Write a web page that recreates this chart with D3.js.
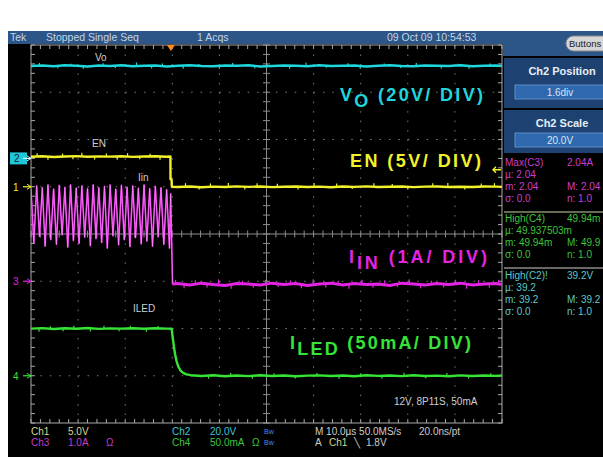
<!DOCTYPE html>
<html>
<head>
<meta charset="utf-8">
<script src="https://cdn.jsdelivr.net/npm/d3@7"></script>
<style>
  html, body { margin: 0; padding: 0; background: #fff; }
  svg { display: block; }
  text { font-family: "Liberation Sans", Arial, sans-serif; }
</style>
</head>
<body>
<svg id="scope" width="603" height="457"></svg>
<script>
// ---- acquisition: 10 horizontal divisions of 10 µs, trigger near 3 div ----
const timeDomain = [-29.7, 70.3];       // µs across the screen
const divDomain = [-4, 4];              // vertical divisions

// channel settings: volts (or amps / mA) per division and position in divisions
const chNames = ["EN", "Vo", "Iin", "ILED"];
const chScale = [5, 20, 1, 50];
const chPos = [1.0, 1.6, -1.0, -3.0];
const chColor = ["#f2f22a", "#1fd6dc", "#e324e3", "#36e336"];

// Ch2 output voltage Vo (V)
const voT = [-29.7,-27.3,-24.9,-22.5,-20.1,-17.7,-15.3,-12.9,-10.5,-8.1,-5.7,-3.3,-0.9,1.5,4,6.5,9,11.5,14,16.5,19,21.5,24,26.5,29,31.5,34,36.5,39,41.5,44,46.5,49,51.5,54,56.5,59,61.5,64,66.5,69,70.3];
const voV = [39.1,39.3,39.0,39.4,39.2,38.9,39.3,39.1,39.4,39.0,39.2,39.3,38.9,39.2,39.4,39.1,39.0,39.3,39.2,39.4,38.9,39.1,39.3,39.2,39.0,39.4,39.1,39.2,39.3,38.9,39.2,39.4,39.1,39.0,39.3,39.2,39.1,39.4,39.0,39.2,39.3,39.1];
const voSpikeT = [-27.9,-24.0,-21.2,-18.6,-14.4,-11.8,-7.3,-4.1,-1.8,2.6,5.9,10.3,13.1,17.8,20.4,25.2,28.7,33.0,37.6,40.2,45.3,48.8,52.1,57.4,60.9,63.3,67.8];
const voSpikeV = [40.4,38.2,40.1,37.9,40.3,38.3,40.6,38.1,40.2,38.0,40.0,37.9,40.4,38.2,40.1,38.0,40.5,38.4,40.3,37.9,40.2,38.3,40.4,38.1,40.1,38.0,40.2];

// Ch1 enable EN (V)
const enT = [-29.7,-27.3,-24.9,-22.5,-20.1,-17.7,-15.3,-12.9,-10.5,-8.1,-5.7,-3.3,-0.9,-0.1,-0.08,0.15,0.2,1.5,4,6.5,9,11.5,14,16.5,19,21.5,24,26.5,29,31.5,34,36.5,39,41.5,44,46.5,49,51.5,54,56.5,59,61.5,64,66.5,69,70.3];
const enV = [3.18,3.22,3.15,3.20,3.24,3.17,3.21,3.19,3.23,3.16,3.20,3.22,3.18,3.20,0.80,0.75,0.0,-0.02,0.03,-0.05,0.01,-0.03,0.04,-0.01,0.02,-0.04,0.0,0.03,-0.02,0.01,-0.05,0.02,-0.01,0.04,-0.03,0.0,0.02,-0.04,0.01,0.03,-0.02,0.0,-0.03,0.02,0.01,-0.01];
const enSpikeT = [-28.4,-26.1,-23.0,-20.8,-18.9,-16.2,-13.7,-11.4,-9.2,-6.6,-4.4,-2.3,3.1,6.0,8.4,12.2,15.7,18.3,22.6,27.0,30.4,35.2,38.5,43.1,47.0,50.3,55.6,58.8,62.4,65.9,68.7];
const enSpikeV = [3.55,2.85,3.50,2.90,3.60,2.88,3.52,2.85,3.55,2.90,3.50,2.86,0.38,-0.30,0.35,0.40,-0.28,0.36,0.32,-0.30,0.40,0.34,-0.25,0.38,0.30,-0.30,0.36,0.40,-0.28,0.34,0.38];

// Ch3 input current Iin (A): switching ripple, then off
const iinT = [-29.7,-29.1,-28.5,-27.9,-27.3,-26.7,-26.1,-25.5,-24.9,-24.3,-23.7,-23.1,-22.5,-21.9,-21.3,-20.7,-20.1,-19.5,-18.9,-18.3,-17.7,-17.1,-16.5,-15.9,-15.3,-14.7,-14.1,-13.5,-12.9,-12.3,-11.7,-11.1,-10.5,-9.9,-9.3,-8.7,-8.1,-7.5,-6.9,-6.3,-5.7,-5.1,-4.5,-3.9,-3.3,-2.7,-2.1,-1.5,-0.9,-0.3,-0.05,0.35,1.5,4,6.5,9,11.5,14,16.5,19,21.5,24,26.5,29,31.5,34,36.5,39,41.5,44,46.5,49,51.5,54,56.5,59,61.5,64,66.5,69,70.3];
const iinV = [1.96,0.80,2.02,0.95,1.98,0.74,2.04,0.88,1.95,0.78,2.03,0.98,1.99,0.72,2.04,0.86,1.97,0.80,2.02,0.93,1.96,0.75,2.04,0.90,1.98,0.82,2.01,0.70,2.04,0.96,1.95,0.77,2.03,0.88,1.99,0.73,2.02,0.92,1.97,0.79,2.04,0.85,1.96,0.74,2.01,0.94,1.98,0.78,1.94,0.70,1.85,-0.06,-0.05,-0.08,-0.04,-0.07,-0.09,-0.05,-0.06,-0.08,-0.04,-0.07,-0.05,-0.09,-0.06,-0.04,-0.08,-0.05,-0.07,-0.06,-0.09,-0.04,-0.06,-0.08,-0.05,-0.07,-0.04,-0.08,-0.06,-0.05,-0.07];
const iinSpikeT = [1.0,2.8,5.2,7.7,10.1,12.8,15.2,17.5,20.1,22.8,25.4,27.7,30.2,32.9,35.5,37.8,40.6,42.9,45.4,48.1,50.6,53.0,55.3,57.9,60.4,62.8,65.3,67.6,69.6];
const iinSpikeV = [0.03,-0.15,0.02,-0.13,0.04,-0.16,0.01,-0.14,0.03,-0.12,0.02,-0.15,0.04,-0.13,0.01,-0.16,0.03,-0.14,0.02,-0.12,0.04,-0.15,0.01,-0.13,0.03,-0.16,0.02,-0.14,0.03];

// Ch4 LED current ILED (mA)
const iledT = [-29.7,-27.3,-24.9,-22.5,-20.1,-17.7,-15.3,-12.9,-10.5,-8.1,-5.7,-3.3,-0.9,0.15,0.4,0.65,0.9,1.2,1.6,2.0,2.6,3.3,4.2,6.5,9,11.5,14,16.5,19,21.5,24,26.5,29,31.5,34,36.5,39,41.5,44,46.5,49,51.5,54,56.5,59,61.5,64,66.5,69,70.3];
const iledV = [49.9,50.4,49.5,50.2,49.8,50.5,49.6,50.1,49.9,50.3,49.7,50.2,49.9,49.8,40,30.5,22.5,15.5,9.5,5.8,3.0,1.4,0.6,-0.3,0.5,-0.6,0.2,-0.4,0.6,-0.2,0.3,-0.5,0.1,0.4,-0.3,0.2,-0.6,0.5,-0.1,0.3,-0.4,0.6,-0.2,0.1,-0.5,0.4,-0.3,0.2,-0.1,0.3];
const iledSpikeT = [-28.0,-25.6,-22.9,-20.6,-17.1,-14.2,-11.0,-8.6,-5.2,-2.7,8.0,12.7,17.3,21.9,26.4,31.0,35.7,40.3,44.8,49.5,54.1,58.6,63.2,67.9];
const iledSpikeV = [46.5,52.5,47.0,53.0,46.8,52.8,47.2,53.0,46.5,52.6,-3.0,2.8,-3.2,2.6,-2.8,3.0,-3.1,2.7,-2.9,3.1,-2.7,2.9,-3.0,2.6];

// screen texts
const headerTexts = ["Tek", "Stopped  Single Seq", "1 Acqs", "09 Oct 09 10:54:53"];
const measC3 = ["Max(C3)", "2.04A", "\u00b5: 2.04", "m: 2.04", "M: 2.04", "\u03c3: 0.0", "n: 1.0"];
const measC4 = ["High(C4)", "49.94m", "\u00b5: 49.937503m", "m: 49.94m", "M: 49.9", "\u03c3: 0.0", "n: 1.0"];
const measC2 = ["High(C2)!", "39.2V", "\u00b5: 39.2", "m: 39.2", "M: 39.2", "\u03c3: 0.0", "n: 1.0"];

// ---- drawing ----
const svg = d3.select("#scope");
const X0 = 31, X1 = 502, Y0 = 45, Y1 = 423;
const gx = d3.scaleLinear().domain([0, 10]).range([X0, X1]);
const gy = d3.scaleLinear().domain(divDomain).range([Y1, Y0]);
const x = d3.scaleLinear().domain(timeDomain).range([X0, X1]);
const yCh = (ch, v) => gy(v / chScale[ch] + chPos[ch]);

svg.append("rect").attr("width", 603).attr("height", 457).attr("fill", "#fff");
svg.append("rect").attr("x", 8).attr("y", 31).attr("width", 595).attr("height", 426).attr("fill", "#000");

// header bar
svg.append("rect").attr("x", 8).attr("y", 31).attr("width", 595).attr("height", 13).attr("fill", "#2b5687");
svg.append("rect").attr("x", X1 + 1).attr("y", 44).attr("width", 100).attr("height", 12).attr("fill", "#2b5687");
const hdr = svg.append("g").attr("font-size", 10.5).attr("fill", "#c4d4e6");
[[10, headerTexts[0]], [46, headerTexts[1]], [197, headerTexts[2]], [387, headerTexts[3]]]
  .forEach(([px, s]) => hdr.append("text").attr("x", px).attr("y", 41).text(s));
// Buttons pill
svg.append("rect").attr("x", 566).attr("y", 36).attr("width", 44).attr("height", 15).attr("rx", 7.5)
  .attr("fill", "#d6d6d6").attr("stroke", "#888");
svg.append("text").attr("x", 569).attr("y", 47).attr("font-size", 9.5).attr("fill", "#222").text("Buttons");

// right menu panels
function panel(y, h, title, value, boxY) {
  svg.append("rect").attr("x", X1 + 2).attr("y", y).attr("width", 100).attr("height", h).attr("fill", "#1d4271");
  svg.append("text").attr("x", 562).attr("y", y + 17).attr("text-anchor", "middle")
    .attr("font-size", 11).attr("font-weight", "bold").attr("fill", "#e6eef6").text(title);
  svg.append("rect").attr("x", 515).attr("y", boxY).attr("width", 90).attr("height", 14)
    .attr("fill", "#2f68ae").attr("stroke", "#5d8cc8");
  svg.append("text").attr("x", 560).attr("y", boxY + 11).attr("text-anchor", "middle")
    .attr("font-size", 10).attr("fill", "#d8e6f4").text(value);
}
panel(58, 50, "Ch2 Position", "1.6div", 85);
panel(110, 43, "Ch2 Scale", "20.0V", 133);

// measurement readouts
function meas(rows, y, color) {
  const g = svg.append("g").attr("font-size", 10).attr("fill", color);
  g.append("text").attr("x", 505).attr("y", y).text(rows[0]);
  g.append("text").attr("x", 567).attr("y", y).text(rows[1]);
  g.append("text").attr("x", 505).attr("y", y + 12).text(rows[2]);
  g.append("text").attr("x", 505).attr("y", y + 24).text(rows[3]);
  g.append("text").attr("x", 567).attr("y", y + 24).text(rows[4]);
  g.append("text").attr("x", 505).attr("y", y + 36).text(rows[5]);
  g.append("text").attr("x", 567).attr("y", y + 36).text(rows[6]);
}
meas(measC3, 166, "#cc3fcc");
svg.append("line").attr("x1", 504).attr("x2", 603).attr("y1", 212).attr("y2", 212).attr("stroke", "#c8d8a0");
meas(measC4, 222, "#3ec43e");
svg.append("line").attr("x1", 504).attr("x2", 603).attr("y1", 268).attr("y2", 268).attr("stroke", "#d0d0d0");
meas(measC2, 279, "#5cc8c8");

// graticule
const grid = svg.append("g");
const minor = d3.range(0, 10.001, 0.2);
const minorV = d3.range(-4, 4.001, 0.2);
d3.range(1, 10).filter(i => i !== 5).forEach(i => {
  grid.append("line").attr("x1", gx(i)).attr("x2", gx(i)).attr("y1", Y0).attr("y2", Y1)
    .attr("stroke", "#7a7a7a").attr("stroke-dasharray", "1.5 7.95");
});
d3.range(-3, 4).filter(i => i !== 0).forEach(i => {
  grid.append("line").attr("x1", X0).attr("x2", X1).attr("y1", gy(i)).attr("y2", gy(i))
    .attr("stroke", "#7a7a7a").attr("stroke-dasharray", "1.5 7.92");
});
grid.append("line").attr("x1", gx(5)).attr("x2", gx(5)).attr("y1", Y0).attr("y2", Y1).attr("stroke", "#8c8c8c");
grid.append("line").attr("x1", X0).attr("x2", X1).attr("y1", gy(0)).attr("y2", gy(0)).attr("stroke", "#8c8c8c");
minorV.forEach(d => {
  grid.append("line").attr("x1", gx(5) - 3.5).attr("x2", gx(5) + 3.5).attr("y1", gy(d)).attr("y2", gy(d)).attr("stroke", "#8c8c8c");
  grid.append("line").attr("x1", X0).attr("x2", X0 + 4).attr("y1", gy(d)).attr("y2", gy(d)).attr("stroke", "#a8a8a8");
  grid.append("line").attr("x1", X1 - 4).attr("x2", X1).attr("y1", gy(d)).attr("y2", gy(d)).attr("stroke", "#a8a8a8");
});
minor.forEach(d => {
  grid.append("line").attr("x1", gx(d)).attr("x2", gx(d)).attr("y1", gy(0) - 3.5).attr("y2", gy(0) + 3.5).attr("stroke", "#8c8c8c");
  grid.append("line").attr("x1", gx(d)).attr("x2", gx(d)).attr("y1", Y0).attr("y2", Y0 + 4).attr("stroke", "#a8a8a8");
  grid.append("line").attr("x1", gx(d)).attr("x2", gx(d)).attr("y1", Y1 - 4).attr("y2", Y1).attr("stroke", "#a8a8a8");
});
grid.append("rect").attr("x", X0).attr("y", Y0).attr("width", X1 - X0).attr("height", Y1 - Y0)
  .attr("fill", "none").attr("stroke", "#a8a8a8");

// traces
svg.append("clipPath").attr("id", "plotClip").append("rect")
  .attr("x", X0).attr("y", Y0).attr("width", X1 - X0).attr("height", Y1 - Y0);
const traces = svg.append("g").attr("clip-path", "url(#plotClip)");

function levelAt(ts, vs, t) {
  const i = Math.max(1, Math.min(ts.length - 1, d3.bisectLeft(ts, t)));
  const f = (t - ts[i - 1]) / (ts[i] - ts[i - 1]);
  return vs[i - 1] + f * (vs[i] - vs[i - 1]);
}
function trace(ch, ts, vs, sts, svs, width) {
  const pts = ts.map((t, i) => [t, vs[i]]);
  const line = d3.line().x(d => x(d[0])).y(d => yCh(ch, d[1]));
  traces.append("path").attr("d", line(pts)).attr("fill", "none")
    .attr("stroke", chColor[ch]).attr("stroke-width", width).attr("stroke-linejoin", "round");
  sts.forEach((t, i) => {
    traces.append("line").attr("x1", x(t)).attr("x2", x(t))
      .attr("y1", yCh(ch, levelAt(ts, vs, t))).attr("y2", yCh(ch, svs[i]))
      .attr("stroke", chColor[ch]).attr("stroke-width", 1.2);
  });
}
trace(1, voT, voV, voSpikeT, voSpikeV, 2.4);
trace(0, enT, enV, enSpikeT, enSpikeV, 2.4);
trace(2, iinT, iinV, iinSpikeT, iinSpikeV, 1.6);
// lighter overlay on the ripple
traces.append("path")
  .attr("d", d3.line().x(d => x(d[0])).y(d => yCh(2, d[1]))(iinT.slice(0, 52).map((t, i) => [t, iinV[i]])))
  .attr("fill", "none").attr("stroke", "#ff9cff").attr("stroke-width", 0.6);
traces.append("path")
  .attr("d", d3.line().x(d => x(d[0])).y(d => yCh(2, d[1]))(iinT.slice(51).map((t, i) => [t, iinV[i + 51]])))
  .attr("fill", "none").attr("stroke", chColor[2]).attr("stroke-width", 3);
trace(3, iledT, iledV, iledSpikeT, iledSpikeV, 2.4);

// trace name labels
const small = svg.append("g").attr("font-size", 10).attr("fill", "#cfcfcf");
small.append("text").attr("x", 95).attr("y", 61).text("Vo");
small.append("text").attr("x", 92).attr("y", 147).text("EN");
small.append("text").attr("x", 138).attr("y", 181).text("Iin");
small.append("text").attr("x", 133).attr("y", 312).text("ILED");
small.append("text").attr("x", 394).attr("y", 405).text("12V, 8P11S, 50mA");

// scale annotations
function bigLabel(main, sub, rest, x0, x1, base, color) {
  const t = svg.append("text").attr("x", x0).attr("y", base).attr("font-size", 18)
    .attr("font-weight", "bold").attr("fill", color)
    .attr("textLength", x1 - x0).attr("lengthAdjust", "spacing");
  t.append("tspan").text(main);
  if (sub) {
    t.append("tspan").attr("dy", 6).text(sub);
    t.append("tspan").attr("dy", -6).text(rest);
  }
}
bigLabel("V", "O", " (20V/ DIV)", 340, 483, 101, chColor[1]);
bigLabel("EN (5V/ DIV)", null, null, 350, 481, 167, chColor[0]);
bigLabel("I", "IN", " (1A/ DIV)", 349, 487, 263, chColor[2]);
bigLabel("I", "LED", " (50mA/ DIV)", 290, 471, 349, chColor[3]);

// channel ground markers
const gm = svg.append("g").attr("font-size", 10);
gm.append("rect").attr("x", 10).attr("y", yCh(1, 0) - 6).attr("width", 17).attr("height", 12).attr("fill", "#1fc8d8");
gm.append("text").attr("x", 14).attr("y", yCh(1, 0) + 4).attr("fill", "#123").text("2");
[[1, 0], [0, 0], [2, 0], [3, 0]].forEach(([ch]) => {
  const yy = yCh(ch, 0);
  gm.append("line").attr("x1", 23).attr("x2", X0).attr("y1", yy).attr("y2", yy)
    .attr("stroke", ch === 1 ? "#d8f4f8" : chColor[ch]).attr("stroke-width", 1.2);
  gm.append("path").attr("d", `M${X0 - 4},${yy - 2.5}L${X0},${yy}L${X0 - 4},${yy + 2.5}`)
    .attr("fill", "none").attr("stroke", ch === 1 ? "#d8f4f8" : chColor[ch]);
});
gm.append("text").attr("x", 13).attr("y", yCh(0, 0) + 4).attr("fill", chColor[0]).text("1");
gm.append("text").attr("x", 13).attr("y", yCh(2, 0) + 4).attr("fill", chColor[2]).text("3");
gm.append("text").attr("x", 13).attr("y", yCh(3, 0) + 4).attr("fill", chColor[3]).text("4");

// trigger position and level markers
svg.append("path").attr("d", `M${x(0) - 4},${Y0}L${x(0) + 4},${Y0}L${x(0)},${Y0 + 6}Z`).attr("fill", "#ff8a1e");
const trigY = yCh(0, 1.8);
svg.append("path").attr("d", `M${X1 - 9},${trigY}L${X1 - 1},${trigY}M${X1 - 6},${trigY - 3}L${X1 - 9},${trigY}L${X1 - 6},${trigY + 3}`)
  .attr("stroke", chColor[0]).attr("stroke-width", 1.3).attr("fill", "none");

// status line
const st = svg.append("g").attr("font-size", 10);
const row1 = 435, row2 = 446;
st.append("text").attr("x", 31).attr("y", row1).attr("fill", "#d8d890").text("Ch1");
st.append("text").attr("x", 68).attr("y", row1).attr("fill", "#d8d890").text("5.0V");
st.append("text").attr("x", 31).attr("y", row2).attr("fill", "#c43cc4").text("Ch3");
st.append("text").attr("x", 68).attr("y", row2).attr("fill", "#c43cc4").text("1.0A");
st.append("text").attr("x", 106).attr("y", row2).attr("fill", "#c43cc4").text("\u03a9");
st.append("text").attr("x", 172).attr("y", row1).attr("fill", "#3ec4dc").text("Ch2");
st.append("text").attr("x", 210).attr("y", row1).attr("fill", "#3ec4dc").text("20.0V");
st.append("text").attr("x", 172).attr("y", row2).attr("fill", "#3ec43e").text("Ch4");
st.append("text").attr("x", 210).attr("y", row2).attr("fill", "#3ec43e").text("50.0mA");
st.append("text").attr("x", 252).attr("y", row2).attr("fill", "#3ec43e").text("\u03a9");
st.append("text").attr("x", 264).attr("y", row1 - 1).attr("font-size", 7).attr("fill", "#4a8ee0").text("Bw");
st.append("text").attr("x", 264).attr("y", row2 - 1).attr("font-size", 7).attr("fill", "#4a8ee0").text("Bw");
st.append("text").attr("x", 315).attr("y", row1).attr("fill", "#cccccc").text("M 10.0\u00b5s 50.0MS/s");
st.append("text").attr("x", 419).attr("y", row1).attr("fill", "#cccccc").text("20.0ns/pt");
st.append("text").attr("x", 315).attr("y", row2).attr("fill", "#cccccc").text("A");
st.append("text").attr("x", 329).attr("y", row2).attr("fill", "#d8d890").text("Ch1");
st.append("text").attr("x", 354).attr("y", row2).attr("fill", "#cccccc").text("\u2572");
st.append("text").attr("x", 366).attr("y", row2).attr("fill", "#cccccc").text("1.8V");
</script>
</body>
</html>
